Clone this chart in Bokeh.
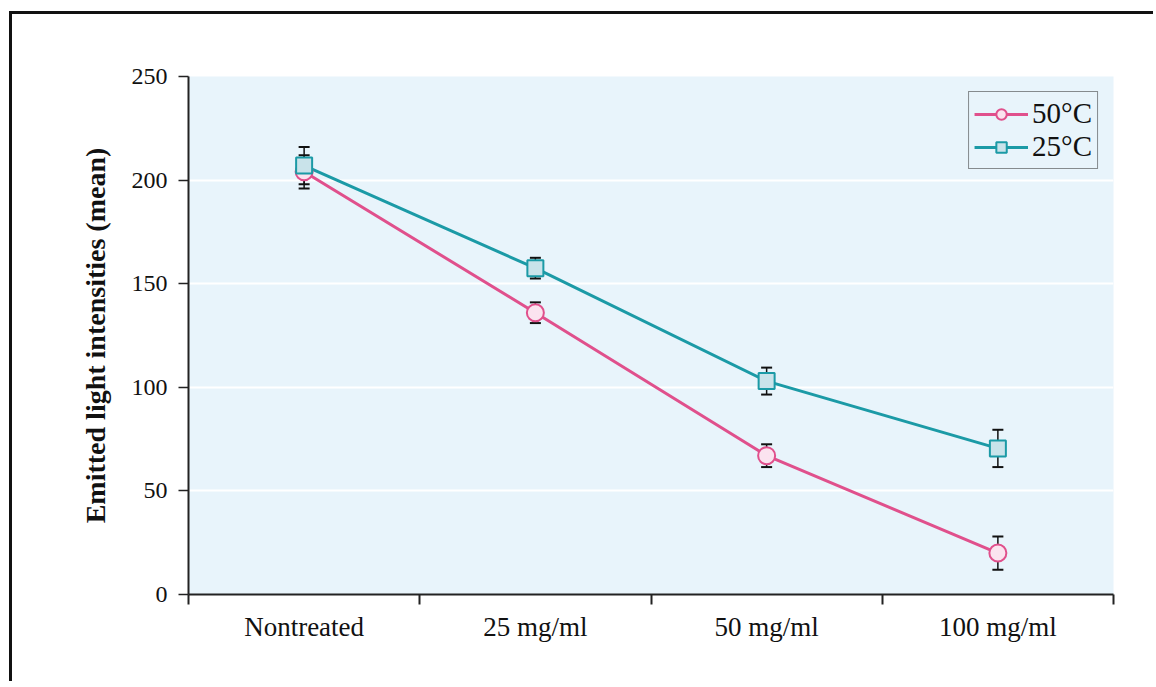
from bokeh.plotting import figure
from bokeh.models import (ColumnDataSource, FixedTicker, Whisker, TeeHead, Legend,
                          LegendItem, CustomJSTickFormatter, Range1d)
from bokeh.embed import file_html
from bokeh.resources import INLINE

categories = ["Nontreated", "25 mg/ml", "50 mg/ml", "100 mg/ml"]
mean_50 = [204, 136, 67, 20]
err_50 = [8, 5, 5.5, 8]
mean_25 = [207, 157.5, 103, 70.5]
err_25 = [9, 5, 6.5, 9]
y_ticks = [0, 50, 100, 150, 200, 250]

xpos = [i + 0.5 for i in range(len(categories))]

src50 = ColumnDataSource(dict(x=xpos, y=mean_50,
                              lo=[m - e for m, e in zip(mean_50, err_50)],
                              hi=[m + e for m, e in zip(mean_50, err_50)]))
src25 = ColumnDataSource(dict(x=xpos, y=mean_25,
                              lo=[m - e for m, e in zip(mean_25, err_25)],
                              hi=[m + e for m, e in zip(mean_25, err_25)]))

PINK = "#e0508c"
TEAL = "#1b9aa6"
FONT = "Liberation Serif"

p = figure(width=1144, height=670, output_backend="svg", toolbar_location=None,
           x_range=Range1d(0, len(categories)), y_range=Range1d(0, 250),
           min_border_left=176, min_border_right=43, min_border_top=62,
           min_border_bottom=90)
p.styles = {"border-left": "3px solid #111", "border-top": "3px solid #111",
            "margin-left": "9px", "margin-top": "11px"}
p.background_fill_color = "#e8f4fb"
p.border_fill_color = "white"
p.outline_line_color = None

# axes
p.xaxis.ticker = FixedTicker(ticks=xpos, minor_ticks=list(range(len(categories) + 1)))
labels_js = "const c = %s; return c[Math.floor(tick)];" % str(categories)
p.xaxis.formatter = CustomJSTickFormatter(code=labels_js)
p.xaxis.major_tick_line_color = None
p.xaxis.major_tick_out = 0
p.xaxis.minor_tick_line_color = "#222"
p.xaxis.minor_tick_line_width = 2
p.xaxis.minor_tick_out = 10
p.xaxis.minor_tick_in = 0
p.xaxis.axis_line_color = "#222"
p.xaxis.axis_line_width = 2
p.xaxis.major_label_text_font = FONT
p.xaxis.major_label_text_font_size = "27px"
p.xaxis.major_label_text_color = "#111"
p.xaxis.major_label_standoff = 7

p.yaxis.ticker = FixedTicker(ticks=y_ticks)
p.yaxis.minor_tick_line_color = None
p.yaxis.major_tick_line_color = "#222"
p.yaxis.major_tick_line_width = 1.5
p.yaxis.major_tick_out = 10
p.yaxis.major_tick_in = 0
p.yaxis.axis_line_color = "#222"
p.yaxis.axis_line_width = 2
p.yaxis.major_label_text_font = FONT
p.yaxis.major_label_text_font_size = "24px"
p.yaxis.major_label_text_color = "#111"
p.yaxis.major_label_standoff = 11
p.yaxis.axis_label = "Emitted light intensities (mean)"
p.yaxis.axis_label_text_font = FONT
p.yaxis.axis_label_text_font_size = "28px"
p.yaxis.axis_label_text_font_style = "bold"
p.yaxis.axis_label_text_color = "#111"
p.yaxis.axis_label_standoff = 18

p.xgrid.grid_line_color = None
p.ygrid.ticker = FixedTicker(ticks=y_ticks[1:])
p.ygrid.grid_line_color = "white"
p.ygrid.grid_line_width = 2

# error bars
for src in (src50, src25):
    w = Whisker(source=src, base="x", lower="lo", upper="hi",
                line_color="#111", line_width=1.5,
                upper_head=TeeHead(size=11, line_color="#111", line_width=2),
                lower_head=TeeHead(size=11, line_color="#111", line_width=2))
    p.add_layout(w)

l50 = p.line("x", "y", source=src50, line_color=PINK, line_width=3)
l25 = p.line("x", "y", source=src25, line_color=TEAL, line_width=3)
m50 = p.scatter("x", "y", source=src50, marker="circle", size=17,
                fill_color="#fbe3ef", line_color=PINK, line_width=2)
m25 = p.scatter("x", "y", source=src25, marker="square", size=16,
                fill_color="#c9e3ea", line_color=TEAL, line_width=2)

legend = Legend(items=[LegendItem(label="50°C", renderers=[l50, m50]),
                       LegendItem(label="25°C", renderers=[l25, m25])],
                location="top_right")
legend.label_text_font = FONT
legend.label_text_font_size = "29px"
legend.label_text_color = "#111"
legend.border_line_color = "#222"
legend.border_line_width = 1.5
legend.background_fill_color = "#e8f4fb"
legend.background_fill_alpha = 1
legend.glyph_width = 54
legend.glyph_height = 26
legend.label_standoff = 4
legend.label_height = 26
legend.spacing = 0
legend.padding = 5
legend.margin = 15
p.add_layout(legend)

open("out.html", "w").write(file_html(p, INLINE))
